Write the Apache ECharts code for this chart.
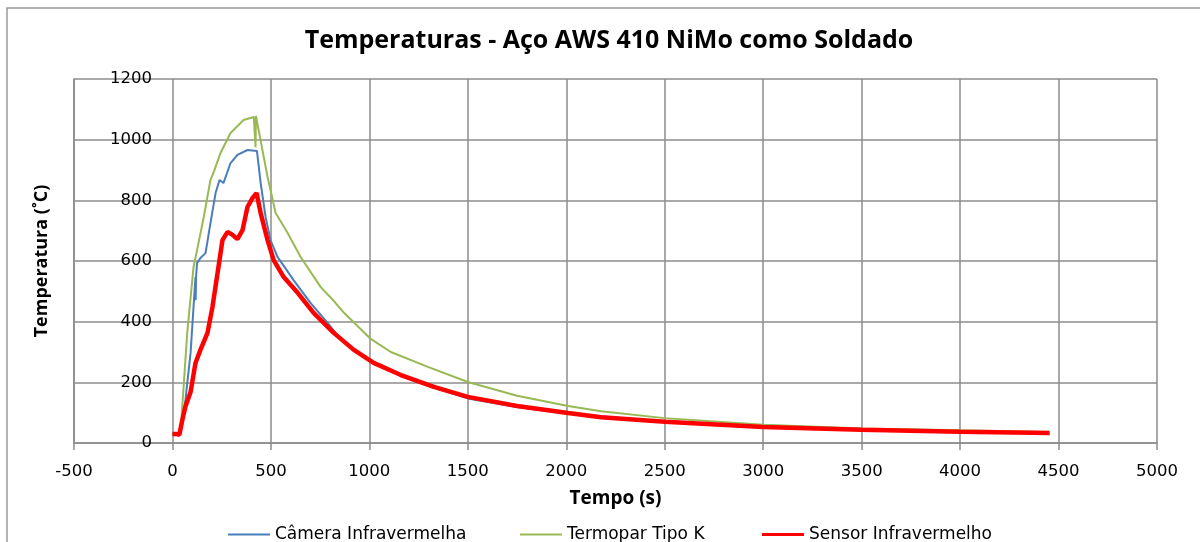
<!DOCTYPE html>
<html>
<head>
<meta charset="utf-8">
<script src="https://cdn.jsdelivr.net/npm/echarts@6/dist/echarts.min.js"></script>
<style>
  html, body { margin: 0; padding: 0; background: #ffffff; }
  #chart { width: 1200px; height: 542px; }
</style>
</head>
<body>
<div id="chart"></div>
<script>
// Temperature curves (°C) against time (s) for each measuring device
const tempoCamera = [0, 20, 41, 66, 92, 107, 117, 118, 120, 125, 142, 168, 193, 219, 239, 259, 295, 330, 381, 429, 448, 473, 498, 534, 575, 615, 702, 788, 844, 921, 1022, 1160, 1328, 1500, 1750, 2009, 2500, 3000, 3500, 4000, 4450];
const tempCamera  = [30, 30, 33, 142, 297, 448, 547, 471, 550, 593, 610, 626, 725, 824, 867, 857, 923, 950, 966, 963, 857, 745, 669, 613, 575, 537, 461, 396, 350, 305, 262, 221, 182, 147, 119, 97, 70, 51, 43, 36, 32];

const tempoTermopar = [0, 20, 41, 75, 107, 125, 159, 193, 210, 244, 295, 361, 413, 421, 422, 424, 447, 483, 524, 585, 651, 753, 820, 870, 1007, 1109, 1297, 1500, 1750, 2009, 2177, 2500, 3000, 3500, 4000, 4450];
const tempTermopar  = [30, 30, 33, 363, 580, 636, 745, 867, 894, 956, 1022, 1065, 1075, 1072, 975, 1078, 1000, 877, 758, 692, 613, 514, 468, 430, 343, 300, 251, 201, 156, 122, 105, 82, 60, 48, 42, 36];

const tempoSensor = [0, 20, 35, 42, 50, 66, 92, 117, 142, 178, 203, 229, 254, 280, 305, 330, 356, 381, 407, 427, 448, 483, 514, 565, 636, 717, 819, 921, 1022, 1160, 1328, 1500, 1750, 2009, 2177, 2500, 3000, 3500, 4000, 4455];
const tempSensor  = [30, 30, 27, 28, 76, 120, 168, 264, 307, 363, 448, 560, 669, 696, 686, 672, 702, 778, 808, 824, 758, 669, 603, 547, 495, 429, 363, 307, 264, 224, 185, 152, 122, 99, 85, 70, 53, 44, 37, 33];

const nomesSeries = ['Câmera Infravermelha', 'Termopar Tipo K', 'Sensor Infravermelho'];
const ticksTempo = [-500, 5000, 500];      // min, max, step
const ticksTemperatura = [0, 1200, 200];   // min, max, step

const pares = (xs, ys) => xs.map((x, i) => [x, ys[i]]);

const cinza = '#8c8c8c';
const fonteTexto = '"DejaVu Sans", Verdana, sans-serif';
const fonteNegrito = '"Open Sans", "Liberation Sans", sans-serif';

const chart = echarts.init(document.getElementById('chart'), null, { renderer: 'canvas' });

// one legend block per series so each entry sits at its own x position
const legenda = (nome, esquerda, espessura) => ({
  data: [nome],
  left: esquerda,
  top: 526,
  padding: 0,
  icon: 'rect',
  itemWidth: 42,
  itemHeight: espessura,
  textStyle: { fontFamily: fonteTexto, fontSize: 17, color: '#000' },
  selectedMode: false
});

chart.setOption({
  animation: false,
  backgroundColor: '#ffffff',
  graphic: [
    {
      type: 'rect',
      shape: { x: 7, y: 8, width: 1260, height: 620 },
      style: { fill: 'none', stroke: '#9a9a9a', lineWidth: 1.5 },
      silent: true
    },
    {
      type: 'text',
      x: 609,
      y: 41,
      style: {
        text: 'Temperaturas - Aço AWS 410 NiMo como Soldado',
        fontFamily: fonteNegrito,
        fontWeight: 'bold',
        fontSize: 25,
        fill: '#000',
        textAlign: 'center',
        textVerticalAlign: 'middle'
      }
    }
  ],
  grid: { left: 74, right: 43, top: 79, bottom: 99, containLabel: false, outerBoundsMode: 'none' },
  legend: [
    legenda(nomesSeries[0], 228, 2),
    legenda(nomesSeries[1], 520, 2),
    legenda(nomesSeries[2], 762, 3)
  ],
  xAxis: {
    type: 'value',
    min: ticksTempo[0],
    max: ticksTempo[1],
    interval: ticksTempo[2],
    name: 'Tempo (s)',
    nameLocation: 'middle',
    nameGap: 46,
    nameTextStyle: { fontFamily: fonteNegrito, fontWeight: 'bold', fontSize: 19, color: '#000' },
    axisLine: { show: true, onZero: false, lineStyle: { color: cinza, width: 1.5 } },
    axisTick: { show: true, length: 7, lineStyle: { color: cinza, width: 1.5 } },
    axisLabel: { color: '#000', fontFamily: fonteTexto, fontSize: 16.5, margin: 20, formatter: v => String(v) },
    splitLine: { show: true, lineStyle: { color: cinza, width: 1.5 } }
  },
  yAxis: {
    type: 'value',
    min: ticksTemperatura[0],
    max: ticksTemperatura[1],
    interval: ticksTemperatura[2],
    name: 'Temperatura (˚C)',
    nameLocation: 'middle',
    nameGap: 23,
    nameRotate: 90,
    nameTextStyle: { fontFamily: fonteNegrito, fontWeight: 'bold', fontSize: 18, color: '#000' },
    axisLine: { show: true, onZero: false, lineStyle: { color: cinza, width: 1.5 } },
    axisTick: { show: false },
    // labels sit just left of the 0 s gridline, inside the plot
    axisLabel: { color: '#000', fontFamily: fonteTexto, fontSize: 16.5, margin: -78, formatter: v => String(v) },
    splitLine: { show: true, lineStyle: { color: cinza, width: 1.5 } }
  },
  series: [
    {
      name: nomesSeries[0],
      type: 'line',
      data: pares(tempoCamera, tempCamera),
      showSymbol: false,
      symbol: 'none',
      color: '#4a7ebb',
      lineStyle: { color: '#4a7ebb', width: 2 },
      z: 2
    },
    {
      name: nomesSeries[1],
      type: 'line',
      data: pares(tempoTermopar, tempTermopar),
      showSymbol: false,
      symbol: 'none',
      color: '#98b954',
      lineStyle: { color: '#98b954', width: 2 },
      z: 3
    },
    {
      name: nomesSeries[2],
      type: 'line',
      data: pares(tempoSensor, tempSensor),
      showSymbol: false,
      symbol: 'none',
      color: '#ff0000',
      lineStyle: { color: '#ff0000', width: 4.5 },
      z: 4
    }
  ]
});
</script>
</body>
</html>
